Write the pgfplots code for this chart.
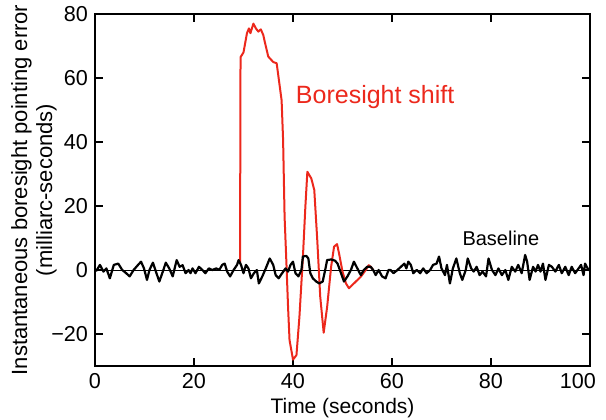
\documentclass[border=0pt]{standalone}
\usepackage{fontspec}
\setmainfont{Liberation Sans}
\usepackage{pgfplots}
\pgfplotsset{compat=1.18}

\definecolor{shiftred}{RGB}{236,40,28}

\begin{document}
\begin{tikzpicture}
\begin{axis}[
    scale only axis, width=247.5pt, height=176pt,
    xmin=0, xmax=100, ymin=-30, ymax=80,
    xtick={0,20,40,60,80,100},
    xticklabels={0,20,40,60,80,\llap{10}0},
    ytick={-20,0,20,40,60,80},
    yticklabels={−20,0,20,40,60,80},
    tick align=inside, major tick length=4pt,
    tick style={black, line width=0.6pt},
    axis line style={line width=0.7pt},
    /pgf/number format/assume math mode=true,
    tick label style={font=\fontsize{10.8}{13}\selectfont},
    label style={font=\fontsize{10.5}{12}\selectfont},
    xlabel={Time (seconds)},
    xlabel style={yshift=2pt},
    ylabel={Instantaneous boresight pointing error\\(milliarc-seconds)},
    ylabel style={align=center, yshift=-9.5pt, font=\fontsize{11}{12.5}\selectfont},
    clip=false,
  ]
  % zero reference line
  \addplot[black, line width=0.5pt] coordinates {(0,0) (100,0)};

  % boresight shift
  \addplot[shiftred, line width=1pt, line join=round] coordinates {
    (29.3,2) (29.4,66.5) (30,68) (30.7,74) (31.1,75.5) (31.4,74) (32,77)
    (32.5,75.5) (33,74.5) (33.5,75.2) (34,73.4) (34.3,71.3) (35,66.7)
    (36,65) (36.7,64.6) (37.7,53) (38,40.6) (38.3,16.7) (38.7,1)
    (39,-11.5) (39.3,-21.9) (40,-28) (40.7,-26.6) (41.3,-14.6) (42,4)
    (42.5,19.8) (42.9,30.7) (43.7,28.6) (44.3,25) (44.9,9.4) (45.5,-8.3)
    (46.2,-19.6) (46.9,-11.5) (47.7,1) (48.3,7.3) (48.9,8.1) (49.3,5.2)
    (50,-0.5) (50.7,-4.2) (51.3,-5.7) (52.3,-4.2) (53.7,-2.1) (54.7,0)
    (55.3,1.5) (55.7,1) (56.2,0)
  };

  % baseline
  \addplot[black, line width=1.1pt, line join=round] coordinates {
    (0,-0.2) (0.3,-0.2) (1,1.6) (1.7,-0.5) (2.3,0.5) (3,-2.6) (3.8,1.6)
    (4.7,2) (5.5,0) (6.3,-1) (7,-2) (7.8,0) (8.7,1.6) (9.3,2.6) (9.9,0.5)
    (10.5,-3.1) (11,0) (11.7,2.3) (12.3,-0.5) (13,-3.6) (13.7,-0.5)
    (14.3,2.3) (15,0.5) (15.7,-2) (16.5,3.1) (17.1,1) (17.7,1.5)
    (18.3,-1) (18.9,0) (19.3,-1) (19.7,0.5) (20.3,-1) (21,1) (21.7,0)
    (22.3,-1) (23,0.5) (23.7,0) (24.5,0.5) (25.1,0) (25.7,1.6) (26.2,2)
    (26.7,-0.5) (27.3,-2) (28,0) (28.7,1.6) (29,3.1) (29.5,1.6) (30,-1)
    (30.5,1.6) (31,0.5) (31.5,-2.6) (32.1,-1) (32.7,0) (33.1,-4.2)
    (33.8,-2) (34.5,0.5) (35.3,3.6) (36,1.6) (36.5,-1.6) (37.1,-2.6)
    (37.8,-1) (38.5,0.5) (39,-0.5) (39.5,1.6) (40,2.6) (40.5,-1)
    (41.1,-2) (41.7,0) (42,4.2) (42.7,4.4) (43.1,3.6) (43.5,-1) (44,-2.6)
    (44.7,-3.6) (45.3,-4.2) (46,-3.6) (46.5,0) (46.9,3.1) (47.7,3.3)
    (48.5,2.9) (49,2) (49.7,-1) (50.3,-3.6) (51,-2) (51.7,0) (52.3,2.6)
    (53,0.5) (53.7,-1.6) (54.3,0) (55,1) (55.7,1) (56.2,0) (56.7,-1.6)
    (57.3,0) (58,-2) (58.7,-2.6) (59.3,0) (59.7,0) (60.3,-1) (61.1,0)
    (61.8,1) (62.5,2) (62.9,0.5) (63.3,2.6) (63.8,1.6) (64.3,-1) (65,0)
    (65.7,-1) (66.3,0.5) (67,-1) (67.7,0) (68.3,1.6) (69,2) (69.5,4.2)
    (70,0.5) (70.7,-1.6) (71.1,1.6) (71.7,-4.2) (72.3,0.5) (73,3.6)
    (73.7,-1) (74.2,-3.1) (74.9,0) (75.3,3.6) (76,0.5) (76.5,-0.5)
    (77.1,1) (77.7,-1.6) (78.3,-0.5) (79,-2) (79.5,3.6) (80.2,0)
    (80.9,-1.6) (81.5,0.5) (82.2,-1.6) (82.9,0) (83.5,-3.1) (84.2,1)
    (84.9,-0.5) (85.5,1.6) (86.2,-1) (86.9,4.7) (87.3,2.6) (87.8,-3.1)
    (88.5,1) (89,-0.5) (89.5,1.6) (90,-0.5) (90.5,2) (91,-3.1) (91.7,1.6)
    (92.3,1) (93,-0.5) (93.7,1.6) (94.3,-1) (95,1) (95.7,-1.6) (96.3,1)
    (97,-1) (97.7,0.5) (98.2,1.6) (98.7,-1.6) (99,2) (99.7,0) (100,0)
  };

  \node[shiftred, font=\fontsize{12.5}{14}\selectfont] at (axis cs:56.6,54) {Boresight shift};
  \node[font=\fontsize{10}{12}\selectfont] at (axis cs:82,10) {Baseline};
\end{axis}
\pgfresetboundingbox
\path ([shift={(-47.5pt,-26.5pt)}]current axis.south west)
  rectangle ([shift={(8pt,7pt)}]current axis.north east);
\end{tikzpicture}
\end{document}
